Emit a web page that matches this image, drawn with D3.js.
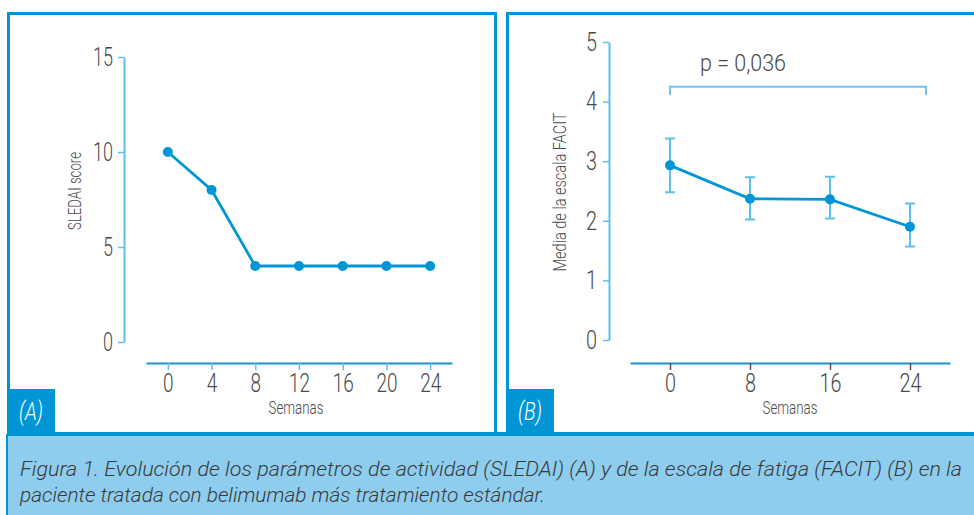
<!DOCTYPE html>
<html>
<head>
<meta charset="utf-8">
<script src="https://cdn.jsdelivr.net/npm/d3@7/dist/d3.min.js"></script>
<style>
  html, body { margin: 0; padding: 0; background: #fff; }
  svg { display: block; }
  text { font-family: "Roboto", "Lato", "DejaVu Sans", sans-serif; font-weight: 300; }
</style>
</head>
<body>
<svg id="fig" width="974" height="515"></svg>
<script>
// Panel A: SLEDAI score by week
const weeksA = [0, 4, 8, 12, 16, 20, 24];
const sledai = [10, 8, 4, 4, 4, 4, 4];
const yTicksA = [0, 5, 10, 15];

// Panel B: mean FACIT score by week, with error bar limits
const weeksB = [0, 8, 16, 24];
const facitMean = [2.93, 2.37, 2.36, 1.90];
const facitLow = [2.48, 2.02, 2.04, 1.57];
const facitHigh = [3.38, 2.73, 2.74, 2.29];
const yTicksB = [0, 1, 2, 3, 4, 5];

// Significance bracket across the follow-up
const bracketWeeks = [0, 25.6];
const bracketLevel = 4.25;
const bracketDrop = 4.11;
const pLabel = "p = 0,036";
const pPos = [3, 4.51];

const captionLines = [
  "Figura 1. Evolución de los parámetros de actividad (SLEDAI) (A) y de la escala de fatiga (FACIT) (B) en la",
  "paciente tratada con belimumab más tratamiento estándar."
];

const BLUE = "#0096d6";
const LIGHT = "#5cc0ea";
const TEXT = "#4a4a4a";

const svg = d3.select("#fig");

// ---- frames and caption band ----
svg.append("rect").attr("x", 7).attr("y", 434).attr("width", 967).attr("height", 81).attr("fill", "#8ecdee");
svg.append("rect").attr("x", 8.5).attr("y", 13.5).attr("width", 487).attr("height", 420)
  .attr("fill", "none").attr("stroke", BLUE).attr("stroke-width", 3);
svg.append("rect").attr("x", 507.5).attr("y", 13.5).attr("width", 480).attr("height", 420)
  .attr("fill", "none").attr("stroke", BLUE).attr("stroke-width", 3);
svg.append("rect").attr("x", 7).attr("y", 432).attr("width", 967).attr("height", 4).attr("fill", BLUE);
svg.append("rect").attr("x", 6).attr("y", 434).attr("width", 2).attr("height", 81).attr("fill", BLUE);

// panel tags
[["(A)", 7, 31], ["(B)", 506, 530]].forEach(([t, x0, cx]) => {
  svg.append("rect").attr("x", x0).attr("y", 389).attr("width", 48).attr("height", 44).attr("fill", BLUE);
  svg.append("text").attr("x", cx).attr("y", 420).attr("text-anchor", "middle")
    .attr("fill", "#fff").attr("font-size", 25).attr("font-style", "italic")
    .attr("textLength", 24).attr("lengthAdjust", "spacingAndGlyphs").text(t);
});

// caption
captionLines.forEach((line, i) => {
  svg.append("text").attr("x", 20).attr("y", 476 + i * 26)
    .attr("fill", "#3a3a3a").attr("font-size", 20).attr("font-style", "italic")
    .attr("textLength", i === 0 ? 942 : 525).attr("lengthAdjust", "spacingAndGlyphs")
    .text(line);
});

function styleTicks(g, charW, color) {
  g.selectAll(".tick text")
    .attr("fill", TEXT).attr("font-size", 26)
    .each(function() {
      const n = this.textContent.length;
      d3.select(this).attr("textLength", n * charW).attr("lengthAdjust", "spacingAndGlyphs");
    });
  g.selectAll(".tick line").attr("stroke", color).attr("stroke-width", 1.5);
  g.select(".domain").attr("stroke", LIGHT).attr("stroke-width", 2);
}

// ---- Panel A ----
const xA = d3.scaleLinear().domain([-2, 26]).range([146, 452]);
const yA = d3.scaleLinear().domain([0, 15]).range([342, 57]);

const gyA = svg.append("g").attr("transform", "translate(124,0)")
  .call(d3.axisLeft(yA).tickValues(yTicksA).tickFormat(d3.format("d")).tickSize(6).tickSizeOuter(0).tickPadding(5));
styleTicks(gyA, 10, LIGHT);

const gxA = svg.append("g").attr("transform", "translate(0,363)")
  .call(d3.axisBottom(xA).tickValues(weeksA).tickFormat(d3.format("d")).tickSize(7).tickSizeOuter(0).tickPadding(4));
styleTicks(gxA, 10.5, LIGHT);
gxA.select(".domain").attr("stroke", "#1a94c8");

svg.append("text").attr("x", 296).attr("y", 414).attr("text-anchor", "middle")
  .attr("fill", TEXT).attr("font-size", 19).attr("textLength", 55).attr("lengthAdjust", "spacingAndGlyphs")
  .text("Semanas");
svg.append("text").attr("transform", "translate(81,191) rotate(-90)").attr("text-anchor", "middle")
  .attr("fill", TEXT).attr("font-size", 19).attr("textLength", 78).attr("lengthAdjust", "spacingAndGlyphs")
  .text("SLEDAI score");

const ptsA = weeksA.map((w, i) => [w, sledai[i]]);
svg.append("path").datum(ptsA)
  .attr("d", d3.line().x(d => xA(d[0])).y(d => yA(d[1])))
  .attr("fill", "none").attr("stroke", BLUE).attr("stroke-width", 2.8);
svg.append("g").selectAll("circle").data(ptsA).join("circle")
  .attr("cx", d => xA(d[0])).attr("cy", d => yA(d[1])).attr("r", 5).attr("fill", BLUE);

// ---- Panel B ----
const xB = d3.scaleLinear().domain([-4, 28]).range([630, 950]);
const yB = d3.scaleLinear().domain([0, 5]).range([340, 42]);

const gyB = svg.append("g").attr("transform", "translate(609,0)")
  .call(d3.axisLeft(yB).tickValues(yTicksB).tickFormat(d3.format("d")).tickSize(6).tickSizeOuter(0).tickPadding(6));
styleTicks(gyB, 11, LIGHT);

const gxB = svg.append("g").attr("transform", "translate(0,363)")
  .call(d3.axisBottom(xB).tickValues(weeksB).tickFormat(d3.format("d")).tickSize(7).tickSizeOuter(0).tickPadding(4));
styleTicks(gxB, 11, "#555");
gxB.select(".domain").attr("stroke", "#1a94c8");

svg.append("text").attr("x", 790).attr("y", 414).attr("text-anchor", "middle")
  .attr("fill", TEXT).attr("font-size", 19).attr("textLength", 55).attr("lengthAdjust", "spacingAndGlyphs")
  .text("Semanas");
svg.append("text").attr("transform", "translate(566,192) rotate(-90)").attr("text-anchor", "middle")
  .attr("fill", TEXT).attr("font-size", 19).attr("textLength", 159).attr("lengthAdjust", "spacingAndGlyphs")
  .text("Media de la escala FACIT");

// bracket with p value
svg.append("path")
  .attr("d", `M${xB(bracketWeeks[0])},${yB(bracketDrop)}V${yB(bracketLevel)}H${xB(bracketWeeks[1])}V${yB(bracketDrop)}`)
  .attr("fill", "none").attr("stroke", "#6cc6ec").attr("stroke-width", 2);
svg.append("text").attr("x", xB(pPos[0])).attr("y", yB(pPos[1]))
  .attr("fill", TEXT).attr("font-size", 23).attr("textLength", 86).attr("lengthAdjust", "spacingAndGlyphs")
  .text(pLabel);

// error bars
const ptsB = weeksB.map((w, i) => ({ w, m: facitMean[i], lo: facitLow[i], hi: facitHigh[i] }));
const eb = svg.append("g").attr("stroke", LIGHT).attr("stroke-width", 2).attr("fill", "none");
ptsB.forEach(d => {
  const x = xB(d.w);
  eb.append("path").attr("d",
    `M${x},${yB(d.lo)}V${yB(d.hi)}M${x - 5},${yB(d.hi)}H${x + 5}M${x - 5},${yB(d.lo)}H${x + 5}`);
});

svg.append("path").datum(ptsB)
  .attr("d", d3.line().x(d => xB(d.w)).y(d => yB(d.m)))
  .attr("fill", "none").attr("stroke", BLUE).attr("stroke-width", 2.8);
svg.append("g").selectAll("circle").data(ptsB).join("circle")
  .attr("cx", d => xB(d.w)).attr("cy", d => yB(d.m)).attr("r", 5).attr("fill", BLUE);
</script>
</body>
</html>
